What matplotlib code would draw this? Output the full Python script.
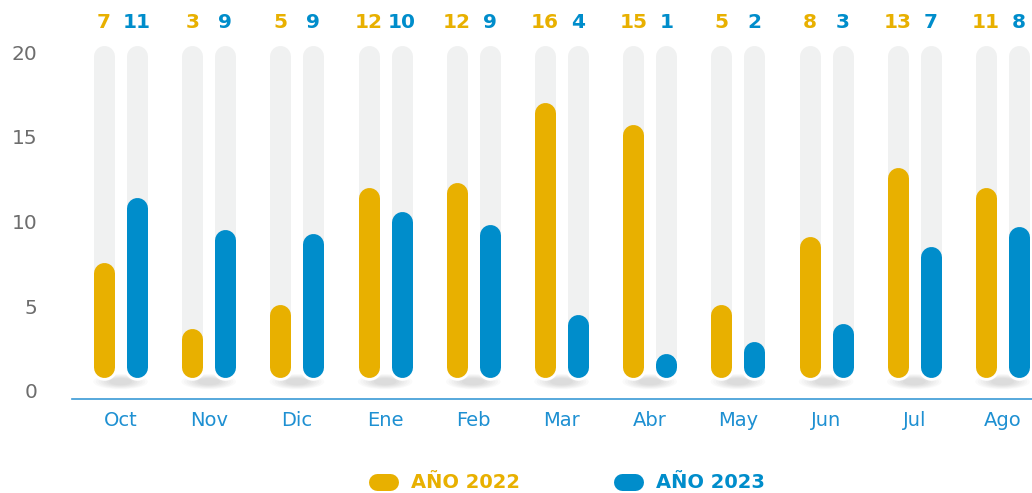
import matplotlib
matplotlib.use('Agg')
import matplotlib.pyplot as plt
from matplotlib.patches import Ellipse
from matplotlib.lines import Line2D

months = ['Oct', 'Nov', 'Dic', 'Ene', 'Feb', 'Mar', 'Abr', 'May', 'Jun', 'Jul', 'Ago']
# numbers printed above each pair
labels_2022 = [7, 3, 5, 12, 12, 16, 15, 5, 8, 13, 11]
labels_2023 = [11, 9, 9, 10, 9, 4, 1, 2, 3, 7, 8]
# visible bar heights (top of the rounded bar)
bars_2022 = [7.6, 3.7, 5.1, 12.0, 12.3, 17.0, 15.75, 5.1, 9.1, 13.2, 12.0]
bars_2023 = [11.4, 9.5, 9.3, 10.6, 9.85, 4.5, 2.2, 2.9, 4.0, 8.55, 9.7]
y_ticks = [0, 5, 10, 15, 20]
series_names = ['AÑO 2022', 'AÑO 2023']

GOLD = '#E8B000'
BLUE = '#008DCB'
TRACK = '#F0F1F1'

W, H = 1032, 493
fig = plt.figure(figsize=(W / 100, H / 100), dpi=100)
# axes from x=72px to right edge, y from 399px (axis line) to top
ax = fig.add_axes([72 / W, (H - 399) / H, (W - 72) / W, 399 / H])

px_per_unit = 16.95
ax.set_ylim((391 - 399) / px_per_unit, 391 / px_per_unit)
ax.set_xlim(-0.55, 10.334)

bar_px = 21
lw = bar_px * 0.72
r = (bar_px / 2) / px_per_unit
base = 0.77
off = 0.187
top_track = 20.41

for i in range(len(months)):
    # soft shadow under the pair
    for k in range(7):
        ax.add_patch(Ellipse((i, 0.55), 0.62 - k * 0.06, 0.9 - k * 0.08,
                             color='#000000', alpha=0.018, lw=0, zorder=1))
    for dx, h, lab, col in [(-off, bars_2022[i], labels_2022[i], GOLD),
                            (off, bars_2023[i], labels_2023[i], BLUE)]:
        x = i + dx
        ax.plot([x, x], [base + r, top_track - r], color=TRACK, lw=lw,
                solid_capstyle='round', zorder=2)
        ax.plot([x], [base + r], 'o', color='white', ms=bar_px * 0.72 + 4,
                mew=0, zorder=3)
        ax.plot([x, x], [base + r, h - r], color=col, lw=lw,
                solid_capstyle='round', zorder=4)
        ax.text(x, (391 - 22) / px_per_unit, str(lab), color=col, ha='center',
                va='center', fontsize=14.5, fontweight='bold')

for s in ['top', 'right', 'left']:
    ax.spines[s].set_visible(False)
ax.spines['bottom'].set_color('#3A9AD6')
ax.spines['bottom'].set_linewidth(1.2)

ax.set_yticks(y_ticks)
ax.set_yticklabels([str(t) for t in y_ticks], fontsize=14.5, color='#6d6d6d')
ax.tick_params(axis='y', length=0, pad=25)
ax.set_xticks(range(len(months)))
ax.set_xticklabels(months, fontsize=14, color='#1E90D2')
ax.tick_params(axis='x', length=0, pad=9)
ax.patch.set_alpha(0)

# legend drawn by hand
for x0, x1, name, col in [(368, 398, series_names[0], GOLD),
                          (613, 643, series_names[1], BLUE)]:
    yy = (H - 482) / H
    fig.add_artist(Line2D([(x0 + 8.5) / W, (x1 - 8.5) / W], [yy, yy],
                          transform=fig.transFigure, color=col, lw=17 * 0.72,
                          solid_capstyle='round'))
    fig.text((x1 + 13) / W, (H - 482) / H, name, color=col, fontsize=14,
             fontweight='bold', ha='left', va='center')

fig.savefig('out.png', dpi=100)
